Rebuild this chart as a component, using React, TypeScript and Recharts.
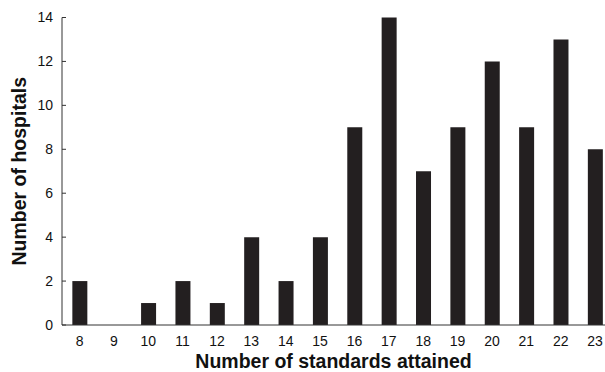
import { Bar, BarChart, XAxis, YAxis, Label } from "recharts"

const standards = [8, 9, 10, 11, 12, 13, 14, 15, 16, 17, 18, 19, 20, 21, 22, 23]
const hospitals = [2, 0, 1, 2, 1, 4, 2, 4, 9, 14, 7, 9, 12, 9, 13, 8]
const yTicks = [0, 2, 4, 6, 8, 10, 12, 14]

const data = standards.map((s, i) => ({ standard: s, count: hospitals[i] }))

const font = "'Liberation Sans', Arial, sans-serif"

export default function App() {
  // absolute so the chart uses the whole window without the body margin
  return (
    <div style={{ position: "absolute", left: 0, top: 0 }}>
      <BarChart
        width={605}
        height={372}
        data={data}
        margin={{ top: 17.5, right: 0, bottom: 0, left: 0 }}
        style={{ fontFamily: font }}
      >
        <XAxis
          dataKey="standard"
          type="number"
          domain={[7.49, 23.29]}
          allowDataOverflow
          ticks={standards}
          interval={0}
          height={47}
          tickLine={false}
          tickSize={0}
          tickMargin={11}
          stroke="#333"
          tick={{ fill: "#111", fontSize: 14 }}
        >
          <Label
            value="Number of standards attained"
            position="insideBottom"
            offset={4}
            style={{ fontWeight: "bold", fontSize: 19.5, fill: "#111" }}
          />
        </XAxis>
        <YAxis
          domain={[0, 14]}
          ticks={yTicks}
          width={62}
          tickSize={-4}
          tickMargin={13}
          stroke="#333"
          tick={{ fill: "#111", fontSize: 14 }}
        >
          <Label
            value="Number of hospitals"
            angle={-90}
            position="insideLeft"
            offset={19}
            style={{ textAnchor: "middle", fontWeight: "bold", fontSize: 19.5, fill: "#111" }}
          />
        </YAxis>
        <Bar dataKey="count" fill="#231f20" barSize={15} isAnimationActive={false} />
      </BarChart>
    </div>
  )
}
